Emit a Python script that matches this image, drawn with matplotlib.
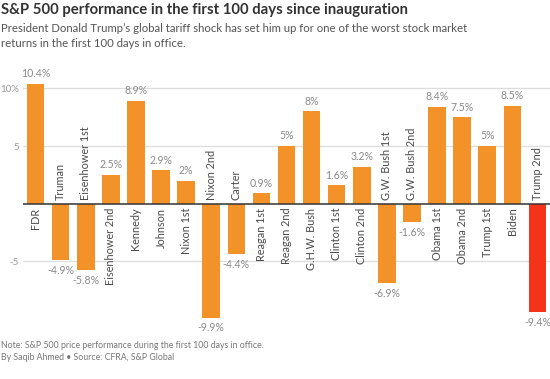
import matplotlib
matplotlib.use("Agg")
import matplotlib.pyplot as plt

# S&P 500 price change in first 100 days (%)
presidents = ["FDR", "Truman", "Eisenhower 1st", "Eisenhower 2nd", "Kennedy", "Johnson",
              "Nixon 1st", "Nixon 2nd", "Carter", "Reagan 1st", "Reagan 2nd", "G.H.W. Bush",
              "Clinton 1st", "Clinton 2nd", "G.W. Bush 1st", "G.W. Bush 2nd", "Obama 1st",
              "Obama 2nd", "Trump 1st", "Biden", "Trump 2nd"]
returns = [10.4, -4.9, -5.8, 2.5, 8.9, 2.9, 2.0, -9.9, -4.4, 0.9, 5.0, 8.0,
           1.6, 3.2, -6.9, -1.6, 8.4, 7.5, 5.0, 8.5, -9.4]
value_labels = ["10.4%", "-4.9%", "-5.8%", "2.5%", "8.9%", "2.9%", "2%", "-9.9%", "-4.4%",
                "0.9%", "5%", "8%", "1.6%", "3.2%", "-6.9%", "-1.6%", "8.4%", "7.5%",
                "5%", "8.5%", "-9.4%"]
yticks = [-5, 5, 10]
ytick_labels = ["-5", "5", "10%"]

ORANGE = "#F39229"
RED = "#F5331A"
GRAY = "#8a8a8a"
plt.rcParams["font.family"] = ["Lato", "DejaVu Sans"]

W, H = 550, 379
fig = plt.figure(figsize=(W / 100, H / 100), dpi=100)


def fy(px):
    return 1 - px / H


ax = fig.add_axes([23 / W, 1 - 335 / H, 1 - 23 / W, (335 - 70) / H])
colors = [ORANGE] * (len(presidents) - 1) + [RED]
x = list(range(len(presidents)))
ax.bar(x, returns, width=0.7, color=colors, zorder=2)
ax.set_xlim(-0.5, len(presidents) - 0.5)
ax.set_ylim(-11.4, 11.6)

for y in yticks:
    ax.axhline(y, color="#dddddd", lw=0.9, zorder=1)
ax.axhline(0, color="#333333", lw=1.1, zorder=3)

ax.set_yticks(yticks)
ax.set_yticklabels(ytick_labels)
ax.tick_params(axis="y", length=0, pad=3, labelsize=7, labelcolor="#999999")
ax.set_xticks([])
for s in ax.spines.values():
    s.set_visible(False)

for i, (name, v, lab) in enumerate(zip(presidents, returns, value_labels)):
    if v >= 0:
        ax.text(i, -0.35, name, rotation=90, ha="center", va="top", fontsize=7.8,
                color="#4a4a4a")
        ax.text(i, v + 0.4, lab, ha="center", va="bottom", fontsize=7.6, color=GRAY)
    else:
        ax.text(i, 0.35, name, rotation=90, ha="center", va="bottom", fontsize=7.8,
                color="#4a4a4a")
        ax.text(i, v - 0.4, lab, ha="center", va="top", fontsize=7.6, color=GRAY)

fig.text(0.002, fy(3), "S&P 500 performance in the first 100 days since inauguration",
         fontsize=10.7, fontweight="bold", color="#333333", va="top", ha="left")
fig.text(0.002, fy(23), "President Donald Trump’s global tariff shock has set him up for one of the worst stock market\n"
         "returns in the first 100 days in office.",
         fontsize=8.2, color="#555555", va="top", ha="left", linespacing=1.45)
fig.text(0.002, fy(341), "Note: S&P 500 price performance during the first 100 days in office.",
         fontsize=6.3, color="#777777", va="top", ha="left")
fig.text(0.002, fy(353), "By Saqib Ahmed • Source: CFRA, S&P Global",
         fontsize=6.3, color="#777777", va="top", ha="left")

fig.savefig("out.png", dpi=100)
